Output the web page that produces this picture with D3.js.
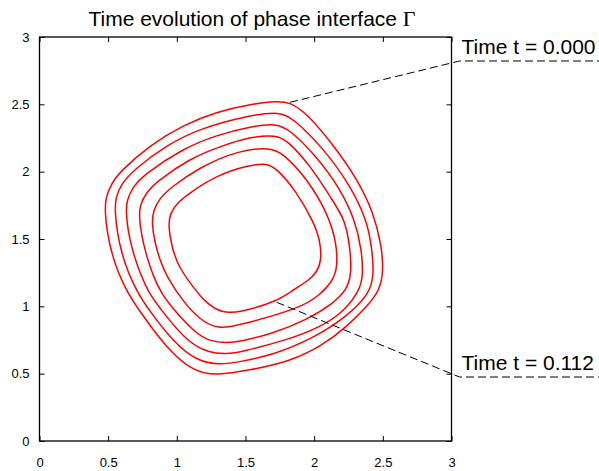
<!DOCTYPE html>
<html>
<head>
<meta charset="utf-8">
<script src="https://cdn.jsdelivr.net/npm/d3@7"></script>
<style>
	body { margin: 0; background: #fff; }
	svg { display: block; font-family: 'Liberation Sans', Arial, sans-serif; }
	.axis text { font-size: 13px; fill: #000; }
	.axis path, .axis line { stroke: #000; }
</style>
</head>
<body>
<div id="chart"></div>
<script>
// tick labels
const xTicks = [0, 0.5, 1, 1.5, 2, 2.5, 3];
const yTicks = [0, 0.5, 1, 1.5, 2, 2.5, 3];

// interface contours, outer (t = 0.000) to inner (t = 0.112), as [x, y]
const gamma1 = [[0.494, 1.542], [0.477, 1.691], [0.481, 1.812], [0.526, 1.914], [0.586, 2.000], [0.805, 2.198], [1.047, 2.347], [1.290, 2.445], [1.533, 2.500], [1.727, 2.525], [1.824, 2.515], [1.946, 2.433], [2.140, 2.198], [2.310, 1.951], [2.431, 1.703], [2.492, 1.443], [2.504, 1.270], [2.480, 1.121], [2.383, 0.997], [2.237, 0.849], [2.067, 0.713], [1.824, 0.589], [1.533, 0.527], [1.290, 0.485], [1.120, 0.515], [0.926, 0.688], [0.732, 0.960], [0.644, 1.097], [0.574, 1.245], [0.526, 1.394]];
const gamma2 = [[0.567, 1.542], [0.550, 1.691], [0.553, 1.812], [0.597, 1.908], [0.683, 2.012], [0.926, 2.198], [1.169, 2.322], [1.533, 2.421], [1.751, 2.445], [1.848, 2.396], [2.067, 2.174], [2.261, 1.901], [2.383, 1.641], [2.419, 1.443], [2.436, 1.245], [2.407, 1.097], [2.237, 0.923], [1.994, 0.763], [1.703, 0.639], [1.460, 0.589], [1.314, 0.564], [1.145, 0.594], [0.974, 0.737], [0.805, 0.960], [0.717, 1.097], [0.647, 1.245], [0.599, 1.394]];
const gamma3 = [[0.647, 1.542], [0.630, 1.691], [0.635, 1.790], [0.681, 1.886], [0.756, 1.975], [1.047, 2.174], [1.290, 2.272], [1.533, 2.334], [1.727, 2.359], [1.824, 2.310], [2.019, 2.111], [2.188, 1.877], [2.298, 1.641], [2.346, 1.418], [2.358, 1.220], [2.322, 1.097], [2.188, 0.936], [2.043, 0.849], [1.848, 0.763], [1.460, 0.659], [1.363, 0.646], [1.234, 0.653], [1.072, 0.737], [0.877, 0.985], [0.797, 1.097], [0.732, 1.245], [0.683, 1.394]];
const gamma4 = [[0.744, 1.517], [0.725, 1.666], [0.732, 1.753], [0.776, 1.842], [0.853, 1.926], [1.096, 2.099], [1.314, 2.186], [1.533, 2.260], [1.727, 2.272], [1.800, 2.235], [1.970, 2.050], [2.140, 1.777], [2.225, 1.641], [2.261, 1.443], [2.273, 1.245], [2.237, 1.121], [2.140, 1.023], [1.946, 0.899], [1.703, 0.800], [1.460, 0.737], [1.363, 0.730], [1.249, 0.735], [1.120, 0.812], [0.950, 1.010], [0.888, 1.097], [0.829, 1.220], [0.781, 1.369]];
const gamma5 = [[0.841, 1.468], [0.817, 1.617], [0.829, 1.715], [0.877, 1.805], [0.950, 1.877], [1.169, 2.037], [1.460, 2.161], [1.679, 2.178], [1.775, 2.136], [1.946, 1.951], [2.101, 1.686], [2.164, 1.468], [2.169, 1.294], [2.140, 1.196], [2.043, 1.084], [1.897, 0.985], [1.460, 0.861], [1.302, 0.829], [1.169, 0.899], [1.047, 1.034], [0.926, 1.220], [0.877, 1.344]];
const gamma6 = [[0.963, 1.443], [0.938, 1.591], [0.950, 1.691], [1.001, 1.764], [1.072, 1.827], [1.290, 1.975], [1.533, 2.050], [1.654, 2.062], [1.727, 2.025], [1.873, 1.851], [1.994, 1.629], [2.043, 1.493], [2.054, 1.344], [2.021, 1.255], [1.955, 1.188], [1.861, 1.132], [1.727, 1.034], [1.460, 0.956], [1.327, 0.948], [1.205, 1.032], [1.118, 1.144], [1.011, 1.294]];
const contours = [gamma1, gamma2, gamma3, gamma4, gamma5, gamma6];

// annotations: label text and the contour point it points at
const labels = ['Time t = 0.000', 'Time t = 0.112'];
const labelAnchors = [[1.824, 2.515], [1.727, 1.030]];

// dimension stuff
const width = 599;
const height = 471;
const marginLeft = 39.5;
const marginRight = 147.5;
const marginTop = 37;
const marginBottom = 30;
const innerW = width - marginLeft - marginRight;
const innerH = height - marginTop - marginBottom;
const TICK = 5;
const FONT_LABEL = 21;

// scales
const scaleX = d3.scaleLinear().domain([0, 3]).range([0, innerW]);
const scaleY = d3.scaleLinear().domain([0, 3]).range([innerH, 0]);

const $svg = d3.select('#chart').append('svg')
	.attr('width', width)
	.attr('height', height);

// title
const $title = $svg.append('text')
	.attr('x', 252)
	.attr('y', 26)
	.attr('text-anchor', 'middle')
	.attr('font-size', FONT_LABEL)
	.text('Time evolution of phase interface ');
$title.append('tspan')
	.attr('font-family', "'Liberation Serif', 'DejaVu Serif', serif")
	.attr('font-size', FONT_LABEL + 1)
	.text('Γ');

const $g = $svg.append('g')
	.attr('transform', `translate(${marginLeft}, ${marginTop})`);

// axes, ticks pointing inward on all four sides
const axisBottom = d3.axisBottom(scaleX).tickValues(xTicks).tickSize(-TICK).tickPadding(17).tickFormat(d3.format('~g'));
const axisTop = d3.axisTop(scaleX).tickValues(xTicks).tickSize(-TICK).tickFormat('');
const axisLeft = d3.axisLeft(scaleY).tickValues(yTicks).tickSize(-TICK).tickPadding(10).tickFormat(d3.format('~g'));
const axisRight = d3.axisRight(scaleY).tickValues(yTicks).tickSize(-TICK).tickFormat('');

$g.append('g').attr('class', 'axis').attr('transform', `translate(0, ${innerH})`).call(axisBottom);
$g.append('g').attr('class', 'axis').call(axisTop);
$g.append('g').attr('class', 'axis').call(axisLeft);
$g.append('g').attr('class', 'axis').attr('transform', `translate(${innerW}, 0)`).call(axisRight);
$g.selectAll('.axis .domain').remove();

$g.append('rect')
	.attr('width', innerW)
	.attr('height', innerH)
	.attr('fill', 'none')
	.attr('stroke', '#000')
	.attr('stroke-width', 1.3);

// contours (b-spline smooths out reading noise)
const line = d3.line()
	.x(d => scaleX(d[0]))
	.y(d => scaleY(d[1]))
	.curve(d3.curveBasisClosed);

$g.append('g').selectAll('path')
	.data(contours)
	.join('path')
	.attr('d', line)
	.attr('fill', 'none')
	.attr('stroke', '#ff0000')
	.attr('stroke-width', 1.5);

// leader lines and labels
const labelY = [61, 377];
labels.forEach((txt, i) => {
	const [ax, ay] = labelAnchors[i];
	const x0 = marginLeft + scaleX(ax);
	const y0 = marginTop + scaleY(ay);
	const elbowX = marginLeft + innerW + 8;
	$svg.append('path')
		.attr('d', `M${x0},${y0}L${elbowX},${labelY[i]}L${width},${labelY[i]}`)
		.attr('fill', 'none')
		.attr('stroke', '#000')
		.attr('stroke-width', 1)
		.attr('stroke-dasharray', '8,4');
	$svg.append('text')
		.attr('x', marginLeft + innerW + 10)
		.attr('y', labelY[i] - 7)
		.attr('font-size', FONT_LABEL)
		.text(txt);
});
</script>
</body>
</html>
